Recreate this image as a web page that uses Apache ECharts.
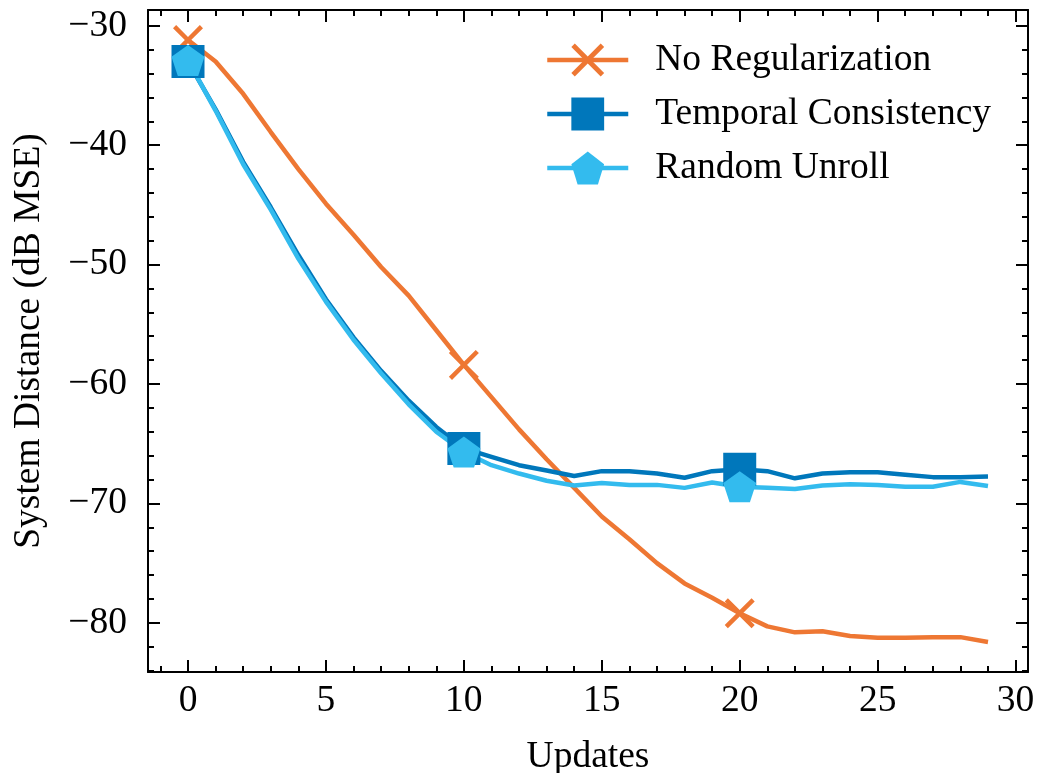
<!DOCTYPE html>
<html>
<head>
<meta charset="utf-8">
<script src="https://cdn.jsdelivr.net/npm/echarts@6/dist/echarts.min.js"></script>
<style>
  html, body { margin: 0; padding: 0; background: #ffffff; }
  #chart { width: 1037px; height: 773px; }
</style>
</head>
<body>
<div id="chart"></div>
<script>
// Training updates on the x axis
const updates = [0, 1, 2, 3, 4, 5, 6, 7, 8, 9, 10, 11, 12, 13, 14, 15, 16, 17, 18, 19,
                 20, 21, 22, 23, 24, 25, 26, 27, 28, 29];

// System distance in dB MSE for each training variant
const noRegularization = [-31.2, -33.0, -35.7, -38.9, -42.0, -44.9, -47.5, -50.2, -52.6, -55.5,
                          -58.4, -61.1, -63.8, -66.3, -68.7, -71.1, -73.0, -75.0, -76.7, -77.9,
                          -79.2, -80.3, -80.8, -80.7, -81.1, -81.25, -81.25, -81.2, -81.2, -81.6];
const temporalConsistency = [-33.0, -37.0, -41.4, -45.2, -49.2, -52.9, -56.1, -58.9, -61.4, -63.6,
                             -65.4, -66.1, -66.8, -67.25, -67.7, -67.3, -67.3, -67.5, -67.85, -67.3,
                             -67.15, -67.3, -67.9, -67.5, -67.4, -67.4, -67.6, -67.8, -67.8, -67.75];
const randomUnroll = [-32.9, -37.1, -41.6, -45.4, -49.5, -53.1, -56.3, -59.1, -61.7, -64.0,
                      -65.7, -66.8, -67.5, -68.1, -68.5, -68.3, -68.45, -68.45, -68.7, -68.25,
                      -68.6, -68.7, -68.8, -68.5, -68.4, -68.45, -68.6, -68.6, -68.2, -68.55];

const seriesNames = ['No Regularization', 'Temporal Consistency', 'Random Unroll'];

// Tick values
const xMajorTicks = [0, 5, 10, 15, 20, 25, 30];
const xMinorTicks = [-1, 1, 2, 3, 4, 6, 7, 8, 9, 11, 12, 13, 14, 16, 17, 18, 19,
                     21, 22, 23, 24, 26, 27, 28, 29];
const yMajorTicks = [-80, -70, -60, -50, -40, -30];
const yMinorTicks = [-84, -82, -78, -76, -74, -72, -68, -66, -64, -62, -58, -56, -54, -52,
                     -48, -46, -44, -42, -38, -36, -34, -32];

const FONT = '"Liberation Serif", "Times New Roman", Times, serif';
const FONT_SIZE = 37.5;
const X_MIN = -1.45, X_MAX = 30.45;
const Y_MIN = -84.12, Y_MAX = -28.68;
const MARK_EVERY = 10;
const LINE_WIDTH = 4.5;

const COLORS = ['#EE7733', '#0077BB', '#33BBEE'];

// Filled "x" cross and regular pentagon marker shapes
const CROSS_PATH = 'path://M0 10.5 L10.5 0 L50 39.5 L89.5 0 L100 10.5 L60.5 50 L100 89.5 L89.5 100 L50 60.5 L10.5 100 L0 89.5 L39.5 50 Z';
const PENTAGON_PATH = 'path://M50 0 L97.55 34.55 L79.39 90.45 L20.61 90.45 L2.45 34.55 Z';

const minusFmt = v => (v < 0 ? '\u2212' + Math.abs(v) : String(v));

// One frame side: a value axis that only draws inward ticks (and optionally line/labels)
function frameAxis(position, min, max, ticks, len, opts) {
  opts = opts || {};
  return Object.assign({
    type: 'value',
    position: position,
    min: min,
    max: max,
    splitLine: { show: false },
    axisLine: { show: !!opts.line, onZero: false, lineStyle: { color: '#000', width: 2 } },
    axisTick: {
      show: true, inside: true, length: len, customValues: ticks,
      lineStyle: { color: '#000', width: 2 }
    },
    axisLabel: opts.labels ? {
      show: true, customValues: ticks, formatter: minusFmt,
      fontFamily: FONT, fontSize: FONT_SIZE, color: '#000', margin: opts.margin
    } : { show: false }
  }, opts.extra || {});
}

function lineData(values) {
  return updates.map((u, i) => [u, values[i]]);
}

function makeSeries(name, values, color, symbol, size) {
  return {
    name: name,
    type: 'line',
    data: lineData(values),
    xAxisIndex: 0,
    yAxisIndex: 0,
    symbol: symbol,
    symbolSize: (v, p) => (p.dataIndex % MARK_EVERY === 0 ? size : 0),
    showSymbol: true,
    lineStyle: { color: color, width: LINE_WIDTH },
    itemStyle: { color: color, opacity: 1 },
    emphasis: { disabled: true },
    clip: false
  };
}

const chart = echarts.init(document.getElementById('chart'), null, { renderer: 'canvas' });

chart.setOption({
  animation: false,
  backgroundColor: '#ffffff',
  grid: {
    left: 148, right: 9, top: 10, bottom: 101,
    containLabel: false, outerBoundsMode: 'none'
  },
  xAxis: [
    frameAxis('bottom', X_MIN, X_MAX, xMajorTicks, 12, {
      line: true, labels: true, margin: 10,
      extra: {
        name: 'Updates', nameLocation: 'middle', nameGap: 66,
        nameTextStyle: { fontFamily: FONT, fontSize: FONT_SIZE, color: '#000' }
      }
    }),
    frameAxis('top', X_MIN, X_MAX, xMajorTicks, 12, { line: true }),
    frameAxis('bottom', X_MIN, X_MAX, xMinorTicks, 6),
    frameAxis('top', X_MIN, X_MAX, xMinorTicks, 6)
  ],
  yAxis: [
    frameAxis('left', Y_MIN, Y_MAX, yMajorTicks, 12, {
      line: true, labels: true, margin: 21,
      extra: {
        name: 'System Distance (dB MSE)', nameLocation: 'middle', nameGap: 100,
        nameTextStyle: { fontFamily: FONT, fontSize: FONT_SIZE, color: '#000' }
      }
    }),
    frameAxis('right', Y_MIN, Y_MAX, yMajorTicks, 12, { line: true }),
    frameAxis('left', Y_MIN, Y_MAX, yMinorTicks, 6),
    frameAxis('right', Y_MIN, Y_MAX, yMinorTicks, 6)
  ],
  legend: {
    orient: 'vertical',
    left: 545,
    top: 41,
    itemWidth: 81,
    itemHeight: 41,
    itemGap: 16,
    padding: 0,
    data: seriesNames,
    lineStyle: { width: LINE_WIDTH },
    textStyle: { fontFamily: FONT, fontSize: FONT_SIZE, color: '#000', padding: [0, 0, 0, 22] }
  },
  series: [
    makeSeries(seriesNames[0], noRegularization, COLORS[0], CROSS_PATH, 30),
    makeSeries(seriesNames[1], temporalConsistency, COLORS[1], 'rect', 33),
    makeSeries(seriesNames[2], randomUnroll, COLORS[2], PENTAGON_PATH, [33, 31])
  ]
});
</script>
</body>
</html>
